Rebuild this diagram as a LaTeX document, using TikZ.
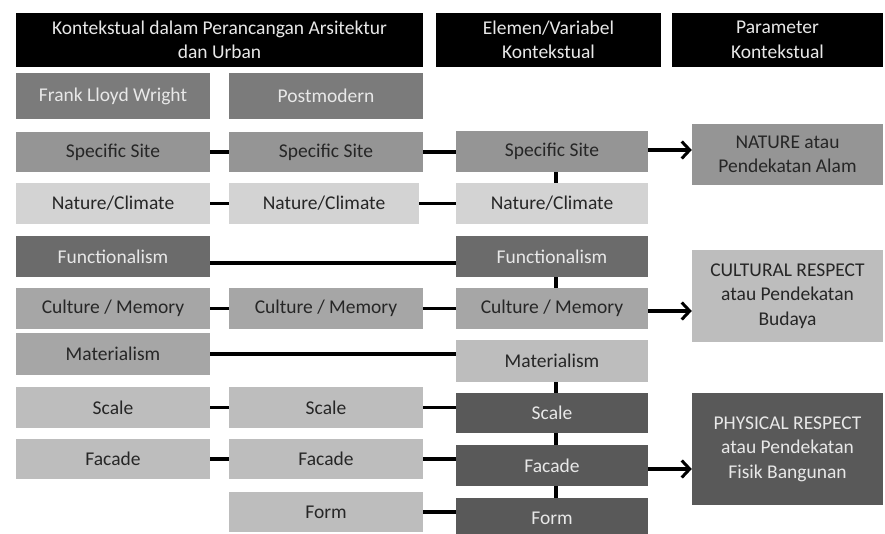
\documentclass[tikz,border=0pt]{standalone}
\usepackage{fontspec}
\setmainfont{Carlito}
\usetikzlibrary{arrows.meta}
\definecolor{cHead}{HTML}{000000}
\definecolor{cDark}{HTML}{595959}
\definecolor{cFun}{HTML}{6B6B6B}
\definecolor{cMid}{HTML}{7B7B7B}
\definecolor{cSite}{HTML}{959595}
\definecolor{cCul}{HTML}{A6A6A6}
\definecolor{cLight}{HTML}{BDBDBD}
\definecolor{cNat}{HTML}{D3D3D3}
\definecolor{tLight}{HTML}{E8E8E8}
\definecolor{tDark}{HTML}{262626}
\tikzset{
  x=1pt,y=-1pt,
  box/.style={rectangle, inner sep=0pt, align=center, font=\fontsize{19.5}{24.5}\selectfont},
  hbox/.style={box, fill=cHead, text=tLight},
  w1/.style={minimum width=194pt},
  w3/.style={minimum width=192pt},
  w4/.style={minimum width=191pt},
  conn/.style={line width=3.2pt, black},
  arr/.style={conn, -{Straight Barb[length=8pt,width=17pt,line width=3pt]}}
}
\begin{document}
\begin{tikzpicture}
\clip (0,0) rectangle (885,533);
\fill[white] (0,0) rectangle (885,533);
% headers
\node[hbox, minimum width=407pt, minimum height=54pt] (h1) at (219.5,40) {Kontekstual dalam Perancangan Arsitektur\\dan Urban};
\node[hbox, minimum width=225pt, minimum height=54pt] (h2) at (548.5,40) {Elemen/Variabel\\Kontekstual};
\node[hbox, minimum width=211pt, minimum height=54pt] (h3) at (777.5,40) {Parameter\\Kontekstual};
% column 1
\node[box, w1, minimum height=46pt, fill=cMid, text=tLight] (flw) at (113,96) {Frank Lloyd Wright};
\node[box, w1, minimum height=40pt, fill=cSite, text=tDark] (s1) at (113,152) {Specific Site};
\node[box, w1, minimum height=41pt, fill=cNat, text=tDark] (n1) at (113,203.5) {Nature/Climate};
\node[box, w1, minimum height=41pt, fill=cFun, text=tLight] (f1) at (113,256.5) {Functionalism};
\node[box, w1, minimum height=41pt, fill=cCul, text=tDark] (c1) at (113,308.5) {Culture / Memory};
\node[box, w1, minimum height=42pt, fill=cCul, text=tDark] (m1) at (113,354) {Materialism};
\node[box, w1, minimum height=41pt, fill=cLight, text=tDark] (sc1) at (113,407.5) {Scale};
\node[box, w1, minimum height=40pt, fill=cLight, text=tDark] (fa1) at (113,459) {Facade};
% column 2
\node[box, w1, minimum height=46pt, fill=cMid, text=tLight] (pm) at (326,96) {Postmodern};
\node[box, w1, minimum height=40pt, fill=cSite, text=tDark] (s2) at (326,152) {Specific Site};
\node[box, minimum width=190pt, minimum height=41pt, fill=cNat, text=tDark] (n2) at (324,203.5) {Nature/Climate};
\node[box, w1, minimum height=41pt, fill=cCul, text=tDark] (c2) at (326,308.5) {Culture / Memory};
\node[box, w1, minimum height=41pt, fill=cLight, text=tDark] (sc2) at (326,407.5) {Scale};
\node[box, w1, minimum height=40pt, fill=cLight, text=tDark] (fa2) at (326,459) {Facade};
\node[box, w1, minimum height=40pt, fill=cLight, text=tDark] (fo2) at (326,512) {Form};
% column 3
\node[box, w3, minimum height=41pt, fill=cSite, text=tDark] (s3) at (552,151.5) {Specific Site};
\node[box, w3, minimum height=41pt, fill=cNat, text=tDark] (n3) at (552,203.5) {Nature/Climate};
\node[box, w3, minimum height=41pt, fill=cFun, text=tLight] (f3) at (552,256.5) {Functionalism};
\node[box, w3, minimum height=41pt, fill=cCul, text=tDark] (c3) at (552,308.5) {Culture / Memory};
\node[box, w3, minimum height=42pt, fill=cLight, text=tDark] (m3) at (552,361) {Materialism};
\node[box, w3, minimum height=40pt, fill=cDark, text=tLight] (sc3) at (552,413) {Scale};
\node[box, w3, minimum height=41pt, fill=cDark, text=tLight] (fa3) at (552,465.5) {Facade};
\node[box, w3, minimum height=40pt, fill=cDark, text=tLight] (fo3) at (552,518) {Form};
% column 4
\node[box, w4, minimum height=61pt, fill=cSite, text=tDark] (nat) at (787.5,154.5) {NATURE atau\\Pendekatan Alam};
\node[box, w4, minimum height=92pt, fill=cLight, text=tDark] (cul) at (787.5,296) {CULTURAL RESPECT\\atau Pendekatan\\Budaya};
\node[box, w4, minimum height=112pt, fill=cDark, text=tLight] (phy) at (787.5,449) {PHYSICAL RESPECT\\atau Pendekatan\\Fisik Bangunan};
% col1 - col2
\draw[conn] (s1.east) -- (s1.east -| s2.west);
\draw[conn] (n1.east) -- (n1.east -| n2.west);
\draw[conn] (c1.east) -- (c1.east -| c2.west);
\draw[conn] (sc1.east) -- (sc1.east -| sc2.west);
\draw[conn] (fa1.east) -- (fa1.east -| fa2.west);
% col2 - col3
\draw[conn] (s2.east) -- (s2.east -| s3.west);
\draw[conn] (n2.east) -- (n2.east -| n3.west);
\draw[conn] (c2.east) -- (c2.east -| c3.west);
\draw[conn] (sc2.east) -- (sc2.east -| sc3.west);
\draw[conn] (fa2.east) -- (fa2.east -| fa3.west);
\draw[conn] (fo2.east) -- (fo2.east -| fo3.west);
% col1 - col3 long lines
\draw[conn] ([yshift=-6.5pt]f1.east) -- ([yshift=-6.5pt]f1.east -| f3.west);
\draw[conn] (m1.east) -- (m1.east -| m3.west);
% verticals in col3
\draw[conn] ([xshift=4pt]s3.south) -- ([xshift=4pt]n3.north);
\draw[conn] ([xshift=4pt]f3.south) -- ([xshift=4pt]c3.north);
\draw[conn] ([xshift=4pt]m3.south) -- ([xshift=4pt]sc3.north);
\draw[conn] ([xshift=4pt]sc3.south) -- ([xshift=4pt]fa3.north);
\draw[conn] ([xshift=4pt]fa3.south) -- ([xshift=4pt]fo3.north);
% arrows
\draw[arr] ([yshift=1.5pt]s3.east) -- ([yshift=1.5pt]s3.east -| nat.west);
\draw[arr] ([yshift=-2.5pt]c3.east) -- ([yshift=-2.5pt]c3.east -| cul.west);
\draw[arr] ([yshift=-3.5pt]fa3.east) -- ([yshift=-3.5pt]fa3.east -| phy.west);
\end{tikzpicture}
\end{document}
